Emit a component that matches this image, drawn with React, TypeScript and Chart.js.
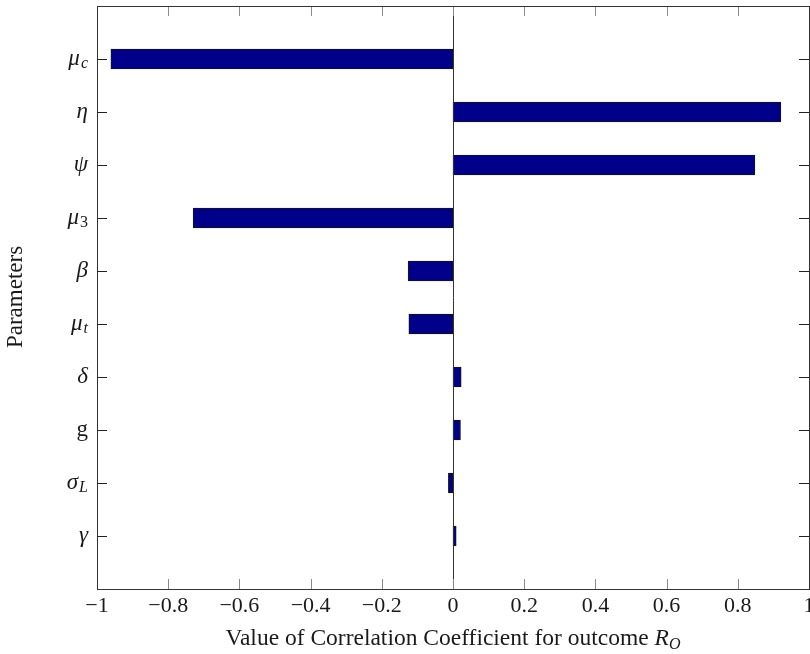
import React, { useEffect, useRef } from 'react';
import { Chart, registerables } from 'chart.js';

Chart.register(...registerables);

// Parameters (top to bottom), split into symbol and subscript
const paramSymbols = ['μ', 'η', 'ψ', 'μ', 'β', 'μ', 'δ', 'g', 'σ', 'γ'];
const paramSubscripts = ['c', '', '', '3', '', 't', '', '', 'L', ''];
const paramItalic = [true, true, true, true, true, true, true, false, true, true];
// Correlation coefficient values for outcome R_O
const correlation = [-0.961, 0.921, 0.848, -0.73, -0.126, -0.124, 0.023, 0.021, -0.013, 0.009];
// X axis ticks
const xTickValues = [-1, -0.8, -0.6, -0.4, -0.2, 0, 0.2, 0.4, 0.6, 0.8, 1];
const xAxisTitle = 'Value of Correlation Coefficient for outcome ';
const xAxisTitleSymbol = 'R';
const xAxisTitleSub = 'O';
const yAxisTitle = 'Parameters';

const SERIF = '"Liberation Serif", "DejaVu Serif", serif';
const TEXT = '#1a1a1a';

const overlayPlugin = {
  id: 'overlay',
  afterDatasetsDraw(chart: any) {
    const ctx: CanvasRenderingContext2D = chart.ctx;
    const { left, right, top, bottom } = chart.chartArea;
    const xs = chart.scales.x;
    const ys = chart.scales.y;
    ctx.save();

    // zero line
    const x0 = Math.round(xs.getPixelForValue(0)) + 0.5;
    ctx.strokeStyle = '#333';
    ctx.lineWidth = 1;
    ctx.beginPath();
    ctx.moveTo(x0, top);
    ctx.lineTo(x0, bottom);
    ctx.stroke();

    // x ticks (top & bottom, inward)
    ctx.strokeStyle = '#8a8a8a';
    ctx.beginPath();
    xTickValues.forEach((v) => {
      const px = Math.round(xs.getPixelForValue(v)) + 0.5;
      ctx.moveTo(px, bottom);
      ctx.lineTo(px, bottom - 10);
      ctx.moveTo(px, top);
      ctx.lineTo(px, top + 10);
    });
    ctx.stroke();

    // y ticks (left & right, inward)
    ctx.strokeStyle = '#222';
    ctx.beginPath();
    paramSymbols.forEach((_, i) => {
      const py = Math.round(ys.getPixelForValue(i + 1)) + 0.5;
      ctx.moveTo(left, py);
      ctx.lineTo(left + 10, py);
      ctx.moveTo(right, py);
      ctx.lineTo(right - 10, py);
    });
    ctx.stroke();

    // frame
    ctx.strokeStyle = '#333';
    ctx.strokeRect(left + 0.5, top + 0.5, right - left, bottom - top);

    // y tick labels
    ctx.fillStyle = TEXT;
    ctx.textBaseline = 'middle';
    paramSymbols.forEach((sym, i) => {
      const py = ys.getPixelForValue(i + 1);
      const sub = paramSubscripts[i];
      const mainFont = `${paramItalic[i] ? 'italic ' : ''}23px ${SERIF}`;
      const subFont = `${/\d/.test(sub) ? '' : 'italic '}16px ${SERIF}`;
      ctx.font = subFont;
      const subW = sub ? ctx.measureText(sub).width : 0;
      ctx.font = mainFont;
      const mainW = ctx.measureText(sym).width;
      const xr = left - 9;
      ctx.textAlign = 'left';
      ctx.fillText(sym, xr - subW - mainW - (sub ? 1 : 0), py);
      if (sub) {
        ctx.font = subFont;
        ctx.fillText(sub, xr - subW, py + 5);
      }
    });

    // x tick labels
    ctx.font = `22px ${SERIF}`;
    ctx.textAlign = 'center';
    ctx.textBaseline = 'alphabetic';
    xTickValues.forEach((v) => {
      const px = xs.getPixelForValue(v);
      const s = String(Math.round(Math.abs(v) * 10) / 10);
      const label = v < 0 ? '−' + s : s;
      ctx.fillText(label, px, bottom + 23);
    });

    // x axis title
    const mainF = `23.5px ${SERIF}`;
    const symF = `italic 23.5px ${SERIF}`;
    const subF = `italic 16px ${SERIF}`;
    ctx.font = mainF;
    const w1 = ctx.measureText(xAxisTitle).width;
    ctx.font = symF;
    const w2 = ctx.measureText(xAxisTitleSymbol).width;
    ctx.font = subF;
    const w3 = ctx.measureText(xAxisTitleSub).width;
    const total = w1 + w2 + w3;
    let tx = (left + right) / 2 - total / 2;
    const ty = bottom + 56;
    ctx.textAlign = 'left';
    ctx.font = mainF;
    ctx.fillText(xAxisTitle, tx, ty);
    tx += w1;
    ctx.font = symF;
    ctx.fillText(xAxisTitleSymbol, tx, ty);
    tx += w2;
    ctx.font = subF;
    ctx.fillText(xAxisTitleSub, tx, ty + 4);

    // y axis title
    ctx.save();
    ctx.translate(16, 297);
    ctx.rotate(-Math.PI / 2);
    ctx.font = `23px ${SERIF}`;
    ctx.textAlign = 'center';
    ctx.textBaseline = 'middle';
    ctx.fillText(yAxisTitle, 0, 0);
    ctx.restore();

    ctx.restore();
  },
};

export default function App() {
  const ref = useRef<HTMLCanvasElement>(null);

  useEffect(() => {
    const labels = ['', ...paramSymbols.map((s, i) => s + paramSubscripts[i]), ''];
    const values = [null, ...correlation, null];
    const chart = new Chart(ref.current as HTMLCanvasElement, {
      type: 'bar',
      data: {
        labels,
        datasets: [
          {
            data: values as any,
            backgroundColor: '#00008B',
            borderColor: '#151515',
            borderWidth: 1,
            borderSkipped: false,
            barThickness: 20,
          },
        ],
      },
      options: {
        indexAxis: 'y',
        responsive: false,
        animation: false,
        layout: { padding: { left: 97, top: 6, right: 1, bottom: 65 } },
        scales: {
          x: { type: 'linear', min: -1, max: 1, display: false },
          y: { type: 'category', offset: false, display: false },
        },
        plugins: {
          legend: { display: false },
          tooltip: { enabled: false },
        },
      },
      plugins: [overlayPlugin],
    });
    return () => chart.destroy();
  }, []);

  return (
    <div style={{ position: 'absolute', left: 0, top: 0, width: 810, height: 654, background: '#fff' }}>
      <canvas ref={ref} width={810} height={654} style={{ display: 'block' }} />
    </div>
  );
}
